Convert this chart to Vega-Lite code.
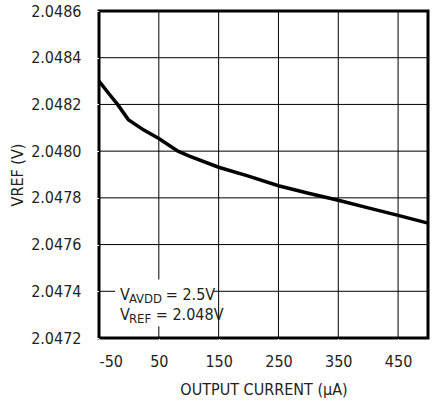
{
  "$schema": "https://vega.github.io/schema/vega-lite/v6.json",
  "width": 329,
  "height": 327,
  "autosize": {"type": "none"},
  "padding": {"left": 99, "top": 11, "right": 4, "bottom": 64},
  "config": {
    "view": {"stroke": "black", "strokeWidth": 3},
    "axis": {"grid": false}
  },
  "layer": [
    {
      "data": {"values": [{"x": 50}, {"x": 150}, {"x": 250}, {"x": 350}, {"x": 450}]},
      "mark": {"type": "rule", "color": "black", "strokeWidth": 1},
      "encoding": {
        "x": {
          "field": "x", "type": "quantitative",
          "scale": {"domain": [-50, 500], "nice": false, "zero": false},
          "axis": {"values": [-50, 50, 150, 250, 350, 450], "grid": false, "domainColor": "black", "tickColor": "white", "labelExpr": "toString(datum.value)", "title": "OUTPUT CURRENT (µA)", "labelPadding": 10, "titlePadding": 12, "labelFont": "DejaVu Sans Condensed", "titleFont": "DejaVu Sans Condensed", "labelFontSize": 16, "titleFontSize": 16, "titleFontWeight": "normal", "labelColor": "#231f20", "titleColor": "#231f20"}
        }
      }
    },
    {
      "data": {"values": [{"y": 2.0474}, {"y": 2.0476}, {"y": 2.0478}, {"y": 2.048}, {"y": 2.0482}, {"y": 2.0484}]},
      "mark": {"type": "rule", "color": "black", "strokeWidth": 1},
      "encoding": {
        "y": {
          "field": "y", "type": "quantitative",
          "scale": {"domain": [2.0472, 2.0486], "nice": false, "zero": false},
          "axis": {"values": [2.0472, 2.0474, 2.0476, 2.0478, 2.048, 2.0482, 2.0484, 2.0486], "grid": false, "domainColor": "black", "tickColor": "white", "format": ".4f", "title": "VREF (V)", "labelPadding": 13, "titlePadding": 5, "labelFont": "DejaVu Sans Condensed", "titleFont": "DejaVu Sans Condensed", "labelFontSize": 16, "titleFontSize": 16, "titleFontWeight": "normal", "labelColor": "#231f20", "titleColor": "#231f20"}
        }
      }
    },
    {
      "data": {"values": [
        {"x": -50, "y": 2.04830},
        {"x": -30, "y": 2.048235},
        {"x": -19, "y": 2.04820},
        {"x": -1, "y": 2.048135},
        {"x": 25, "y": 2.048090},
        {"x": 50, "y": 2.048054},
        {"x": 82, "y": 2.048000},
        {"x": 100, "y": 2.047980},
        {"x": 150, "y": 2.047931},
        {"x": 200, "y": 2.047893},
        {"x": 250, "y": 2.047852},
        {"x": 300, "y": 2.047820},
        {"x": 350, "y": 2.047790},
        {"x": 400, "y": 2.047757},
        {"x": 450, "y": 2.047725},
        {"x": 500, "y": 2.047692}
      ]},
      "mark": {"type": "line", "color": "black", "strokeWidth": 3.5, "interpolate": "linear"},
      "encoding": {
        "x": {"field": "x", "type": "quantitative"},
        "y": {"field": "y", "type": "quantitative"}
      }
    },
    {
      "data": {"values": [{"x": -23, "x2": 142, "y": 2.04725, "y2": 2.04745}]},
      "mark": {"type": "rect", "color": "white"},
      "encoding": {
        "x": {"field": "x", "type": "quantitative"},
        "x2": {"field": "x2"},
        "y": {"field": "y", "type": "quantitative"},
        "y2": {"field": "y2"}
      }
    },
    {
      "data": {"values": [
        {"x": -15, "y": 2.047363, "t": "V"},
        {"x": 61.7, "y": 2.047363, "t": "= 2.5V"},
        {"x": -15, "y": 2.047277, "t": "V"},
        {"x": 45, "y": 2.047277, "t": "= 2.048V"}
      ]},
      "mark": {"type": "text", "align": "left", "baseline": "alphabetic", "fontSize": 16, "color": "#231f20", "font": "DejaVu Sans Condensed"},
      "encoding": {
        "x": {"field": "x", "type": "quantitative"},
        "y": {"field": "y", "type": "quantitative"},
        "text": {"field": "t"}
      }
    },
    {
      "data": {"values": [
        {"x": 0, "y": 2.047363, "t": "AVDD"},
        {"x": 0, "y": 2.047277, "t": "REF"}
      ]},
      "mark": {"type": "text", "align": "left", "baseline": "alphabetic", "fontSize": 13, "dy": 3, "color": "#231f20", "font": "DejaVu Sans Condensed"},
      "encoding": {
        "x": {"field": "x", "type": "quantitative"},
        "y": {"field": "y", "type": "quantitative"},
        "text": {"field": "t"}
      }
    }
  ]
}
